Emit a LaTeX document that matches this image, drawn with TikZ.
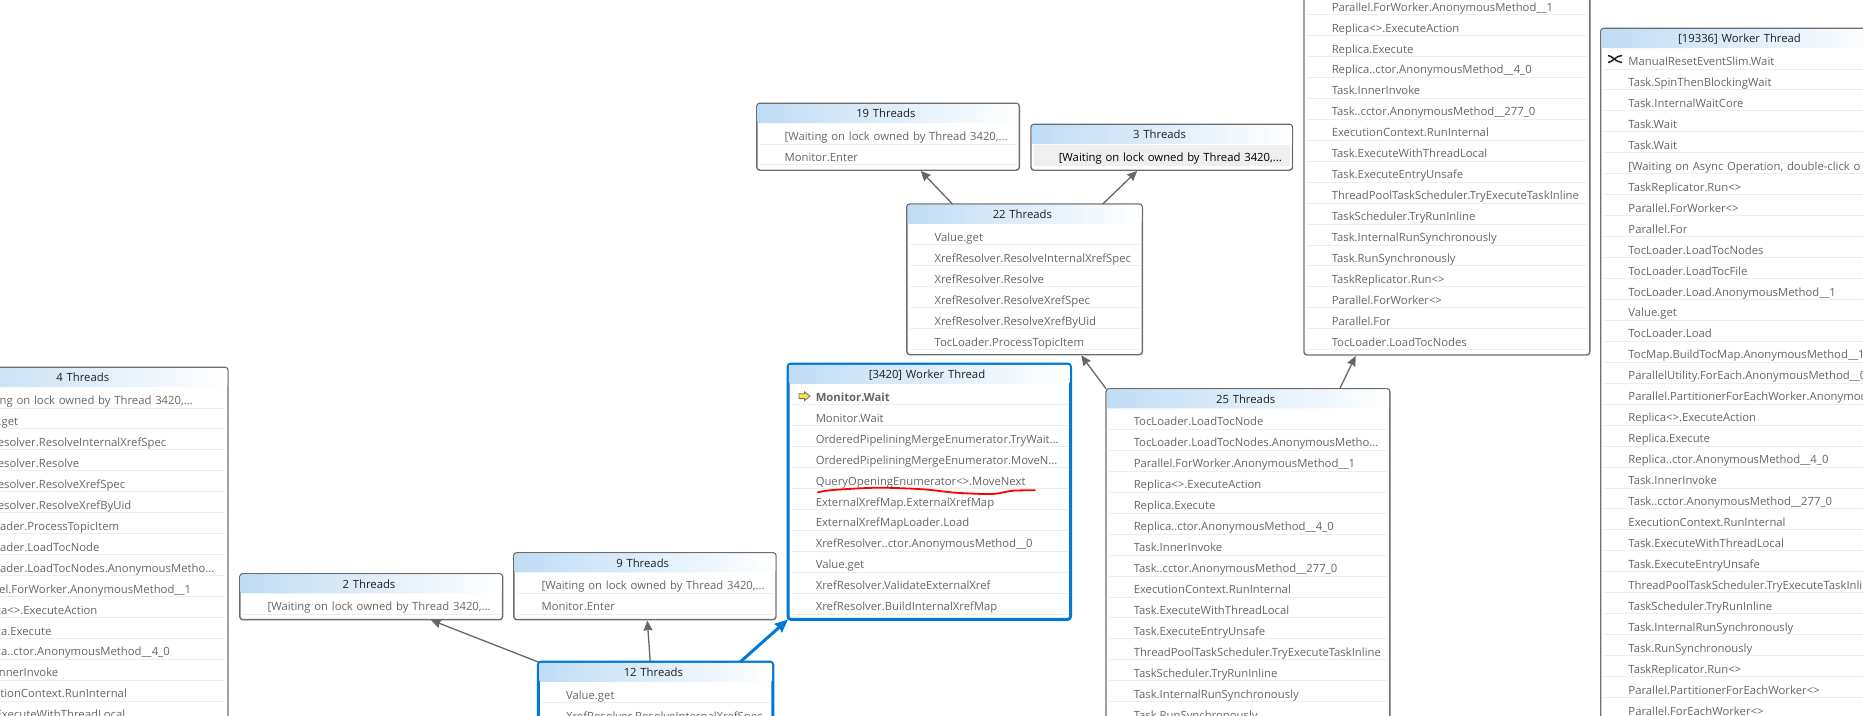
\documentclass[tikz,border=0pt]{standalone}
\usepackage{fontspec}
\setmainfont{Open Sans}
\usetikzlibrary{matrix,arrows.meta}

\definecolor{boxgrey}{HTML}{6D6D6D}
\definecolor{activeblue}{HTML}{0078D7}
\definecolor{headblue}{HTML}{BEDCF5}
\definecolor{rowline}{HTML}{EEEEEE}
\definecolor{rowtext}{HTML}{666666}
\definecolor{titletext}{HTML}{1E1E1E}
\definecolor{edgegrey}{HTML}{666666}
\definecolor{currentrow}{HTML}{EFEFEF}
\definecolor{markyellow}{HTML}{FFE14D}

\begin{document}
\begin{tikzpicture}[x=1pt,y=-1pt]
	
	\tikzset{threads box/.style={
			matrix of nodes,
			draw=boxgrey, line width=1.4pt, rounded corners=3pt,
			inner sep=.75pt, outer sep=0pt,
			row sep=0pt,
			anchor=north west,
			nodes={
				text width=#1,
				text height=13pt, text depth=7.95pt,
				inner sep=0pt,
				align=left,
				text=rowtext,
				font=\fontsize{11.3}{13}\selectfont,
				execute at begin node={\hspace*{27pt}},
				path picture={
					\draw[rowline, line width=1pt]
					([shift={(2pt,4.5pt)}]path picture bounding box.south west) --
					([shift={(-2pt,4.5pt)}]path picture bounding box.south east);
				}
			},
			row 1/.style={nodes={
					text height=13.6pt, text depth=5.4pt,
					align=center,
					text=titletext,
					rounded corners=2pt,
					left color=headblue, right color=white,
					execute at begin node={\hspace*{-31.4pt}},
					path picture={}
				}}
		},
		threads box/.default=260pt,
		active box/.style={threads box=#1, draw=activeblue, line width=3pt},
		filler/.style={text height=#1, text depth=0pt},
		threads edge/.style={draw=edgegrey, line width=1.3pt, shorten >=1pt,
			-{Stealth[length=10pt,width=9pt,inset=1pt]}},
		active edge/.style={draw=activeblue, line width=3pt, shorten >=0pt,
			-{Stealth[length=13pt,width=11pt,inset=1pt]}},
		current text/.style={text=black}
	}
	
	\path[use as bounding box, clip] (0,0) rectangle (1863,715);
	
	% row of the current selection
	\fill[currentrow] (1033.5,145) rectangle (1290,166);
	
	\matrix[threads box=284.5pt] (t4) at (-58,367.3)
	{
		4 Threads \\[4.5pt]
		{[Waiting on lock owned by Thread 3420,...} \\
		Value.get \\
		XrefResolver.ResolveInternalXrefSpec \\
		XrefResolver.Resolve \\
		XrefResolver.ResolveXrefSpec \\
		XrefResolver.ResolveXrefByUid \\
		TocLoader.ProcessTopicItem \\
		TocLoader.LoadTocNode \\
		TocLoader.LoadTocNodes.AnonymousMetho... \\
		Parallel.ForWorker.AnonymousMethod\_\_1 \\
		Replica<>.ExecuteAction \\
		Replica.Execute \\
		Replica..ctor.AnonymousMethod\_\_4\_0 \\
		Task.InnerInvoke \\
		ExecutionContext.RunInternal \\
		Task.ExecuteWithThreadLocal \\
	};
	
	\matrix[threads box=261.3pt] (t2) at (239.8,573.7)
	{
		2 Threads \\[4.5pt]
		{[Waiting on lock owned by Thread 3420,...} \\
	};
	
	\matrix[threads box=260.7pt] (t9) at (513.8,552.7)
	{
		9 Threads \\[4.5pt]
		{[Waiting on lock owned by Thread 3420,...} \\
		Monitor.Enter \\
	};
	
	\matrix[active box=233pt] (t12) at (538.3,662)
	{
		12 Threads \\[4.5pt]
		Value.get \\
		XrefResolver.ResolveInternalXrefSpec \\
		|[filler=84pt]| {} \\
	};
	
	\matrix[active box=281pt] (t3420) at (788,364)
	{
		{[3420] Worker Thread} \\[4.5pt]
		\textbf{Monitor.Wait} \\
		Monitor.Wait \\
		OrderedPipeliningMergeEnumerator.TryWait... \\
		OrderedPipeliningMergeEnumerator.MoveN... \\
		QueryOpeningEnumerator<>.MoveNext \\
		ExternalXrefMap.ExternalXrefMap \\
		ExternalXrefMapLoader.Load \\
		XrefResolver..ctor.AnonymousMethod\_\_0 \\
		Value.get \\
		XrefResolver.ValidateExternalXref \\
		XrefResolver.BuildInternalXrefMap \\
	};
	
	\matrix[threads box=234pt] (t22) at (906.8,204)
	{
		22 Threads \\[4.5pt]
		Value.get \\
		XrefResolver.ResolveInternalXrefSpec \\
		XrefResolver.Resolve \\
		XrefResolver.ResolveXrefSpec \\
		XrefResolver.ResolveXrefByUid \\
		TocLoader.ProcessTopicItem \\
	};
	
	\matrix[threads box=261pt] (t19) at (756.8,103.3)
	{
		19 Threads \\[4.5pt]
		{[Waiting on lock owned by Thread 3420,...} \\
		Monitor.Enter \\
	};
	
	\matrix[threads box=260pt] (t3) at (1031,124.3)
	{
		3 Threads \\[4.5pt]
		|[current text]| {[Waiting on lock owned by Thread 3420,...} \\
	};
	
	\matrix[threads box=282.3pt] (t25) at (1106,388.7)
	{
		25 Threads \\[4.5pt]
		TocLoader.LoadTocNode \\
		TocLoader.LoadTocNodes.AnonymousMetho... \\
		Parallel.ForWorker.AnonymousMethod\_\_1 \\
		Replica<>.ExecuteAction \\
		Replica.Execute \\
		Replica..ctor.AnonymousMethod\_\_4\_0 \\
		Task.InnerInvoke \\
		Task..cctor.AnonymousMethod\_\_277\_0 \\
		ExecutionContext.RunInternal \\
		Task.ExecuteWithThreadLocal \\
		Task.ExecuteEntryUnsafe \\
		ThreadPoolTaskScheduler.TryExecuteTaskInline \\
		TaskScheduler.TryRunInline \\
		Task.InternalRunSynchronously \\
		Task.RunSynchronously \\
		|[filler=42pt]| {} \\
	};
	
	\matrix[threads box=284.3pt, anchor=south west] (ttop) at (1304,355)
	{
		{} \\[4.5pt]
		Parallel.ForWorker.AnonymousMethod\_\_1 \\
		Replica<>.ExecuteAction \\
		Replica.Execute \\
		Replica..ctor.AnonymousMethod\_\_4\_0 \\
		Task.InnerInvoke \\
		Task..cctor.AnonymousMethod\_\_277\_0 \\
		ExecutionContext.RunInternal \\
		Task.ExecuteWithThreadLocal \\
		Task.ExecuteEntryUnsafe \\
		ThreadPoolTaskScheduler.TryExecuteTaskInline \\
		TaskScheduler.TryRunInline \\
		Task.InternalRunSynchronously \\
		Task.RunSynchronously \\
		TaskReplicator.Run<> \\
		Parallel.ForWorker<> \\
		Parallel.For \\
		TocLoader.LoadTocNodes \\
	};
	
	\matrix[threads box=280.5pt] (t19336) at (1600.7,28.3)
	{
		{[19336] Worker Thread} \\[4.5pt]
		ManualResetEventSlim.Wait \\
		Task.SpinThenBlockingWait \\
		Task.InternalWaitCore \\
		Task.Wait \\
		Task.Wait \\
		{[Waiting on Async Operation, double-click o} \\
		TaskReplicator.Run<> \\
		Parallel.ForWorker<> \\
		Parallel.For \\
		TocLoader.LoadTocNodes \\
		TocLoader.LoadTocFile \\
		TocLoader.Load.AnonymousMethod\_\_1 \\
		Value.get \\
		TocLoader.Load \\
		TocMap.BuildTocMap.AnonymousMethod\_\_1 \\
		ParallelUtility.ForEach.AnonymousMethod\_\_0 \\
		Parallel.PartitionerForEachWorker.Anonymou \\
		Replica<>.ExecuteAction \\
		Replica.Execute \\
		Replica..ctor.AnonymousMethod\_\_4\_0 \\
		Task.InnerInvoke \\
		Task..cctor.AnonymousMethod\_\_277\_0 \\
		ExecutionContext.RunInternal \\
		Task.ExecuteWithThreadLocal \\
		Task.ExecuteEntryUnsafe \\
		ThreadPoolTaskScheduler.TryExecuteTaskInline \\
		TaskScheduler.TryRunInline \\
		Task.InternalRunSynchronously \\
		Task.RunSynchronously \\
		TaskReplicator.Run<> \\
		Parallel.PartitionerForEachWorker<> \\
		Parallel.ForEachWorker<> \\
	};
	
	\draw[threads edge] (t22) -- (t19);
	\draw[threads edge] (t22) -- (t3);
	\draw[threads edge] (t25.north west) -- (t22);
	\draw[threads edge] (t25) -- (ttop);
	\draw[threads edge] (t12.north west) -- (t2);
	\draw[threads edge] (t12) -- (t9);
	\draw[active edge] (t12) -- (t3420.south west);
	
	% current frame marker
	\filldraw[fill=markyellow, draw=boxgrey, line width=.8pt, line join=miter]
	(799,393.8) -- (804.5,393.8) -- (804.5,391.8) -- (810,396.2) -- (804.5,400.6)
	-- (804.5,398.6) -- (799,398.6) -- cycle;
	
	% wait marker
	\draw[titletext, line width=1.5pt] (1608,55.5) .. controls (1612,55.5) and (1616,62.5) .. (1622,62.5);
	\draw[titletext, line width=1.5pt] (1608,62.5) .. controls (1612,62.5) and (1616,55.5) .. (1622,55.5);
	
	% hand drawn underline
	\draw[red, line width=1.8pt, line cap=round]
	plot[smooth, tension=.5] coordinates {(818,492.3) (833,490) (878,487.7) (923,489.3)
		(955.5,492.7) (992,494) (1012.7,490.7) (1035,490.3)};
	
\end{tikzpicture}
\end{document}
